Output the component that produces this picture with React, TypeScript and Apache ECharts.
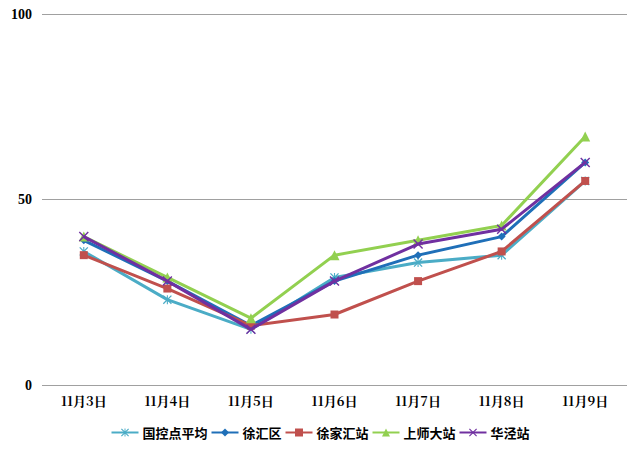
import React, { useEffect, useRef } from "react";
import * as echarts from "echarts";

const categories = ["11月3日", "11月4日", "11月5日", "11月6日", "11月7日", "11月8日", "11月9日"];
const seriesNames = ["国控点平均", "徐汇区", "徐家汇站", "上师大站", "华泾站"];
const guokong = [36, 23, 15, 29, 33, 35, 55];
const xuhuiqu = [39, 28, 16, 28, 35, 40, 60];
const xujiahui = [35, 26, 16, 19, 28, 36, 55];
const shangshida = [40, 29, 18, 35, 39, 43, 67];
const huajing = [40, 28, 15, 28, 38, 42, 60];
const yTicks = [0, 50, 100];

const colors = ["#4BACC6", "#1F6FB8", "#C0504D", "#92D050", "#7030A0"];
const asterisk = "path://M0,1 L1,0 L10,9 L9,10 Z M9,0 L10,1 L1,10 L0,9 Z M4.4,0 L5.6,0 L5.6,10 L4.4,10 Z";
const xmark = "path://M0,1 L1,0 L10,9 L9,10 Z M9,0 L10,1 L1,10 L0,9 Z";
const symbols = [asterisk, "diamond", "rect", "triangle", xmark];
const sizes = [9, 8, 8, 10, 10];

export default function App() {
  const ref = useRef<HTMLDivElement>(null);
  useEffect(() => {
    const chart = echarts.init(ref.current!, null, { renderer: "svg" });
    const data = [guokong, xuhuiqu, xujiahui, shangshida, huajing];
    chart.setOption({
      animation: false,
      backgroundColor: "#fff",
      color: colors,
      grid: { left: 42, right: 13, top: 14, bottom: 69, containLabel: false },
      legend: {
        bottom: 10,
        left: "center",
        itemWidth: 27,
        itemHeight: 10,
        itemGap: 3,
        textStyle: { fontFamily: "Noto Sans CJK SC", fontWeight: "bold", fontSize: 13, color: "#000", padding: [0, 0, 0, -1] },
        data: seriesNames,
      },
      xAxis: {
        type: "category",
        data: categories,
        boundaryGap: true,
        axisLine: { show: false },
        axisTick: { show: false },
        axisLabel: { fontFamily: "Noto Serif CJK SC, Noto Sans CJK SC, serif", fontWeight: "bold", fontSize: 13, color: "#000", margin: 9 },
      },
      yAxis: {
        type: "value",
        min: 0,
        max: 100,
        interval: 50,
        axisLine: { show: false },
        axisTick: { show: false },
        splitLine: { lineStyle: { color: "#A0A0A0", width: 1 } },
        axisLabel: {
          fontFamily: "Liberation Serif, serif",
          fontWeight: "bold",
          fontSize: 14,
          color: "#000",
          margin: 10,
          formatter: (v: number) => (yTicks.includes(v) ? String(v) : ""),
        },
      },
      series: seriesNames.map((name, i) => ({
        name,
        type: "line",
        data: data[i],
        symbol: symbols[i],
        symbolSize: sizes[i],
        showAllSymbol: true,
        lineStyle: { width: 3, color: colors[i] },
        itemStyle: { color: colors[i] },
        z: 2 + i,
      })),
    });
    return () => chart.dispose();
  }, []);
  return <div ref={ref} style={{ width: 640, height: 454, position: "absolute", left: 0, top: 0 }} />;
}
